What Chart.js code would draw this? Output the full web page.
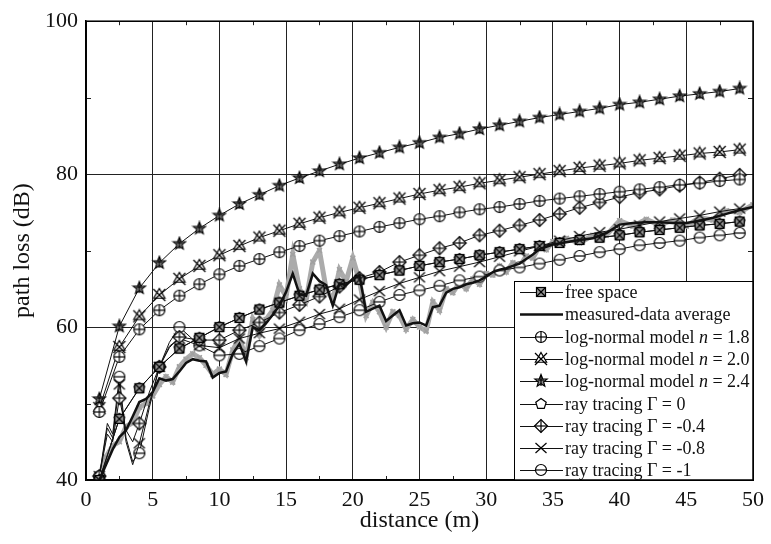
<!DOCTYPE html>
<html>
<head>
<meta charset="utf-8">
<script src="https://cdn.jsdelivr.net/npm/chart.js@4.4.1/dist/chart.umd.min.js"></script>
<style>
  html, body { margin: 0; padding: 0; background: #fff; }
</style>
</head>
<body>
<canvas id="pathLoss" width="771" height="544"></canvas>
<script>
// distances (m) where the model curves carry markers
const modelDist = [1, 2.5, 4, 5.5, 7, 8.5, 10, 11.5, 13, 14.5, 16, 17.5, 19, 20.5, 22, 23.5, 25,
    26.5, 28, 29.5, 31, 32.5, 34, 35.5, 37, 38.5, 40, 41.5, 43, 44.5, 46, 47.5, 49];

const freeSpace = [40.0, 48.0, 52.0, 54.8, 57.2, 58.6, 60.0, 61.2, 62.3, 63.2, 64.1, 64.9, 65.6,
    66.2, 66.8, 67.4, 68.0, 68.5, 68.9, 69.4, 69.8, 70.2, 70.6, 71.0, 71.4, 71.7, 72.0, 72.4,
    72.7, 73.0, 73.3, 73.5, 73.8];
const logNormal18 = [48.9, 56.1, 59.7, 62.2, 64.1, 65.6, 66.9, 68.0, 68.9, 69.8, 70.6, 71.3, 71.9,
    72.5, 73.1, 73.6, 74.1, 74.5, 75.0, 75.4, 75.7, 76.1, 76.5, 76.8, 77.1, 77.4, 77.7, 78.0,
    78.3, 78.6, 78.8, 79.1, 79.3];
const logNormal20 = [49.4, 57.4, 61.4, 64.2, 66.3, 68.0, 69.4, 70.6, 71.7, 72.6, 73.5, 74.3, 75.0,
    75.6, 76.2, 76.8, 77.4, 77.9, 78.3, 78.8, 79.2, 79.6, 80.0, 80.4, 80.8, 81.1, 81.4, 81.8,
    82.1, 82.4, 82.7, 82.9, 83.2];
const logNormal24 = [50.6, 60.1, 65.1, 68.4, 70.9, 72.9, 74.6, 76.1, 77.3, 78.5, 79.5, 80.4, 81.3,
    82.1, 82.8, 83.5, 84.1, 84.8, 85.3, 85.9, 86.4, 86.9, 87.4, 87.8, 88.2, 88.6, 89.1, 89.4,
    89.8, 90.2, 90.5, 90.8, 91.2];
const rayGamma0 = [40.0, 48.0, 52.0, 54.8, 57.2, 58.6, 60.0, 61.2, 62.3, 63.2, 64.1, 64.9, 65.6,
    66.2, 66.8, 67.4, 68.0, 68.5, 68.9, 69.4, 69.8, 70.2, 70.6, 71.0, 71.4, 71.7, 72.0, 72.4,
    72.7, 73.0, 73.3, 73.5, 73.8];

// ray tracing curves are sampled finer near the transmitter
const rayDist = [1, 1.6, 2, 2.5, 3, 3.5, 4, 4.75, 5.5, 6.25, 7, 8.5, 10, 11.5, 13, 14.5, 16, 17.5,
    19, 20.5, 22, 23.5, 25, 26.5, 28, 29.5, 31, 32.5, 34, 35.5, 37, 38.5, 40, 41.5, 43, 44.5, 46,
    47.5, 49];
const rayGammaM04 = [40.5, 46.0, 45.0, 50.7, 46.5, 45.0, 47.4, 51.5, 54.8, 57.3, 58.7,
    58.3, 58.3, 59.6, 60.6, 61.9, 62.9, 64.0, 65.3, 66.4, 67.2, 68.5, 69.4, 70.3, 71.0, 72.0,
    72.6, 73.3, 74.0, 74.8, 75.6, 76.3, 77.0, 77.6, 78.0, 78.5, 78.9, 79.4, 79.9];
const rayGammaM08 = [40.5, 46.8, 45.5, 52.5, 45.0, 42.0, 44.8, 50.0, 54.8, 57.5, 58.5,
    57.6, 57.3, 58.5, 59.2, 59.8, 60.7, 61.7, 62.4, 63.6, 64.7, 65.7, 66.5, 67.3, 67.9, 68.5,
    69.2, 69.9, 70.6, 71.3, 71.9, 72.4, 72.8, 73.3, 73.8, 74.2, 74.6, 75.1, 75.5];
const rayGammaM1 = [40.5, 47.4, 46.0, 53.5, 45.5, 42.4, 43.5, 49.5, 54.8, 58.0, 60.0,
    57.6, 56.3, 56.5, 57.5, 58.5, 59.6, 60.4, 61.3, 62.2, 63.3, 64.2, 64.8, 65.4, 66.1, 66.6,
    67.4, 67.8, 68.3, 68.8, 69.3, 69.8, 70.2, 70.7, 71.0, 71.3, 71.7, 72.0, 72.3];

// measurements
const measDist = [1, 1.5, 2, 2.5, 3, 3.5, 4, 4.5, 5, 5.5, 6, 6.5, 7, 7.5, 8, 8.5, 9, 9.5, 10, 10.5,
    11, 11.5, 12, 12.5, 13, 13.5, 14, 14.5, 15, 15.5, 16, 16.5, 17, 17.5, 18, 18.5, 19, 19.5, 20,
    20.5, 21, 21.5, 22, 22.5, 23, 23.5, 24, 24.5, 25, 25.5, 26, 26.5, 27, 27.5, 28, 28.5, 29,
    29.5, 30, 30.5, 31, 31.5, 32, 32.5, 33, 33.5, 34, 34.5, 35, 36, 37, 38, 39, 40, 41, 42, 43,
    44, 45, 46, 47, 48, 49, 50];
const measAverage = [40.0, 42.0, 44.0, 45.6, 46.5, 48.3, 50.2, 50.6, 51.5, 53.3,
    53.0, 53.2, 54.2, 55.3, 55.8, 55.6, 55.5, 53.4, 54.0, 54.2,
    56.5, 57.8, 55.5, 60.0, 59.6, 60.5, 61.6, 62.8, 64.6, 67.0,
    64.3, 64.1, 67.0, 66.0, 65.5, 62.8, 65.7, 65.5, 66.3, 66.7,
    62.0, 62.4, 62.8, 60.8, 61.5, 62.2, 60.2, 60.5, 60.6, 60.2,
    62.6, 62.8, 64.5, 65.0, 65.2, 65.6, 65.8, 66.1, 66.6, 67.2,
    67.5, 67.7, 68.0, 68.3, 68.9, 69.5, 70.2, 70.5, 70.8,
    71.1, 71.4, 71.6, 72.3, 73.4, 73.6, 73.7, 73.7, 73.6, 73.6, 73.9, 74.3, 74.8, 75.3, 75.7];
const measRaw = [40.5, 43.0, 44.5, 45.0, 47.0, 47.5, 49.5, 50.0, 51.0, 52.5,
    53.5, 52.8, 54.8, 55.8, 56.5, 56.0, 55.0, 53.8, 54.5, 53.8,
    57.0, 58.5, 56.0, 61.0, 59.0, 61.0, 62.2, 65.5, 64.0, 69.5,
    65.0, 63.5, 68.5, 70.0, 65.0, 63.5, 67.5, 66.0, 69.0, 66.0,
    61.5, 63.2, 62.0, 60.0, 62.0, 61.5, 59.7, 61.0, 60.0, 59.5,
    63.3, 62.2, 65.0, 64.5, 65.8, 65.0, 66.3, 65.6, 67.0, 66.8,
    68.0, 67.2, 68.4, 67.9, 69.3, 69.0, 70.6, 70.1, 71.2,
    71.6, 71.0, 72.0, 72.0, 73.9, 73.2, 74.1, 73.3, 74.0, 73.2, 74.3, 74.0, 75.2, 75.0, 76.0];

const xTicks = [0, 5, 10, 15, 20, 25, 30, 35, 40, 45, 50];
const yTicks = [40, 60, 80, 100];

const serif = '"Liberation Serif", "Times New Roman", serif';

function pts(xs, ys) {
    return xs.map((x, i) => ({ x: x, y: ys[i] }));
}

// marker images
function marker(draw) {
    const c = document.createElement('canvas');
    c.width = 16;
    c.height = 16;
    const g = c.getContext('2d');
    g.translate(8, 8);
    g.strokeStyle = '#000';
    g.fillStyle = '#fff';
    g.lineWidth = 1.2;
    draw(g);
    return c;
}
function line(g, x1, y1, x2, y2) {
    g.beginPath(); g.moveTo(x1, y1); g.lineTo(x2, y2); g.stroke();
}
function poly(g, n, r, rot) {
    g.beginPath();
    for (let k = 0; k < n; k++) {
        const a = rot + k * 2 * Math.PI / n;
        g.lineTo(r * Math.cos(a), r * Math.sin(a));
    }
    g.closePath();
}

const mSquare = marker(g => {
    g.fillStyle = '#999';
    g.fillRect(-4.5, -4.5, 9, 9);
    g.strokeRect(-4.5, -4.5, 9, 9);
    line(g, -4.5, -4.5, 4.5, 4.5);
    line(g, 4.5, -4.5, -4.5, 4.5);
});
const mCirclePlus = marker(g => {
    g.beginPath(); g.arc(0, 0, 5.5, 0, 2 * Math.PI); g.fill(); g.stroke();
    line(g, -5.5, 0, 5.5, 0);
    line(g, 0, -5.5, 0, 5.5);
});
const mTriX = marker(g => {
    poly(g, 3, 6.5, -Math.PI / 2); g.fill(); g.stroke();
    line(g, -6, -6, 6, 6);
    line(g, 6, -6, -6, 6);
});
const mStar = marker(g => {
    g.beginPath();
    for (let k = 0; k < 10; k++) {
        const r = k % 2 ? 2.8 : 6.5;
        const a = -Math.PI / 2 + k * Math.PI / 5;
        g.lineTo(r * Math.cos(a), r * Math.sin(a));
    }
    g.closePath();
    g.fillStyle = '#888';
    g.fill(); g.stroke();
    line(g, 0, -6, 0, 5);
    line(g, -3, -1, 3, -1);
});
const mPentagon = marker(g => {
    poly(g, 5, 5.5, -Math.PI / 2); g.fill(); g.stroke();
});
const mDiamondPlus = marker(g => {
    poly(g, 4, 6.5, 0); g.fill(); g.stroke();
    line(g, -6.5, 0, 6.5, 0);
    line(g, 0, -6.5, 0, 6.5);
});
const mCross = marker(g => {
    line(g, -5.5, -5, 5.5, 5);
    line(g, 5.5, -5, -5.5, 5);
});
const mTheta = marker(g => {
    g.beginPath(); g.arc(0, 0, 5.5, 0, 2 * Math.PI); g.fill(); g.stroke();
    line(g, -5.5, 0, 5.5, 0);
});

// markers only on the 1.5 m grid
const onGrid = (ctx) => (ctx.raw && modelDist.includes(ctx.raw.x)) ? 6 : 0;

function curve(xs, ys, style, order) {
    return {
        data: pts(xs, ys),
        borderColor: '#111',
        borderWidth: 1,
        pointStyle: style,
        pointRadius: onGrid,
        pointHoverRadius: 0,
        order: order
    };
}

const legendRows = [
    { text: ['free space'], marker: mSquare, width: 1 },
    { text: ['measured-data average'], marker: null, width: 2.5 },
    { text: ['log-normal model ', 'n', ' = 1.8'], marker: mCirclePlus, width: 1 },
    { text: ['log-normal model ', 'n', ' = 2.0'], marker: mTriX, width: 1 },
    { text: ['log-normal model ', 'n', ' = 2.4'], marker: mStar, width: 1 },
    { text: ['ray tracing \u0393 = 0'], marker: mPentagon, width: 1 },
    { text: ['ray tracing \u0393 = -0.4'], marker: mDiamondPlus, width: 1 },
    { text: ['ray tracing \u0393 = -0.8'], marker: mCross, width: 1 },
    { text: ['ray tracing \u0393 = -1'], marker: mTheta, width: 1 }
];

const minorTicks = {
    id: 'minorTicks',
    beforeDatasetsDraw(chart) {
        const ctx = chart.ctx;
        const a = chart.chartArea;
        const xs = chart.scales.x;
        const ys = chart.scales.y;
        ctx.save();
        ctx.strokeStyle = '#222';
        ctx.lineWidth = 1;
        for (let v = 2.5; v < 50; v += 5) {
            const px = Math.round(xs.getPixelForValue(v)) + 0.5;
            line(ctx, px, a.bottom, px, a.bottom - 4);
            line(ctx, px, a.top, px, a.top + 4);
        }
        for (let v = 50; v < 100; v += 20) {
            const py = Math.round(ys.getPixelForValue(v)) + 0.5;
            line(ctx, a.left, py, a.left + 5, py);
            line(ctx, a.right, py, a.right - 5, py);
        }
        ctx.restore();
    }
};

const boxLegend = {
    id: 'boxLegend',
    afterDraw(chart) {
        const ctx = chart.ctx;
        const a = chart.chartArea;
        const left = a.right - 239;
        const top = a.bottom - 199;
        ctx.save();
        ctx.fillStyle = '#fff';
        ctx.fillRect(left, top, a.right - left, a.bottom - top);
        ctx.strokeStyle = '#000';
        ctx.lineWidth = 1;
        ctx.strokeRect(left + 0.5, top + 0.5, a.right - left, a.bottom - top);
        legendRows.forEach((row, i) => {
            const y = Math.round(top + 11 + i * 22.3) + 0.5;
            ctx.strokeStyle = '#111';
            ctx.lineWidth = row.width;
            line(ctx, left + 6, y, left + 49, y);
            if (row.marker) {
                ctx.drawImage(row.marker, left + 27 - 8, y - 8.5);
            }
            ctx.fillStyle = '#111';
            ctx.textBaseline = 'middle';
            let x = left + 51;
            row.text.forEach((part, k) => {
                ctx.font = (k === 1 ? 'italic ' : '') + '18px ' + serif;
                ctx.fillText(part, x, y + 1);
                x += ctx.measureText(part).width;
            });
        });
        // plot frame
        ctx.strokeStyle = '#000';
        ctx.lineWidth = 1.5;
        ctx.strokeRect(a.left, a.top, a.right - a.left, a.bottom - a.top);
        ctx.restore();
    }
};

new Chart(document.getElementById('pathLoss'), {
    type: 'line',
    data: {
        datasets: [
            {
                data: pts(measDist, measAverage),
                borderColor: '#111',
                borderWidth: 2.5,
                pointRadius: 0,
                order: 1
            },
            curve(modelDist, freeSpace, mSquare, 2),
            curve(modelDist, logNormal18, mCirclePlus, 3),
            curve(modelDist, logNormal20, mTriX, 3),
            curve(modelDist, logNormal24, mStar, 3),
            curve(modelDist, rayGamma0, mPentagon, 4),
            curve(rayDist, rayGammaM04, mDiamondPlus, 4),
            curve(rayDist, rayGammaM08, mCross, 4),
            curve(rayDist, rayGammaM1, mTheta, 4),
            {
                data: pts(measDist, measRaw),
                borderColor: '#ababab',
                borderWidth: 5,
                pointStyle: 'crossRot',
                pointRadius: 3.5,
                pointBorderColor: '#a0a0a0',
                pointBorderWidth: 1.5,
                order: 9
            }
        ]
    },
    options: {
        responsive: false,
        animation: false,
        events: [],
        layout: { padding: { top: 20, right: 11, left: 0, bottom: 0 } },
        plugins: {
            legend: { display: false },
            tooltip: { enabled: false }
        },
        elements: { line: { tension: 0 } },
        scales: {
            x: {
                type: 'linear',
                min: 0,
                max: 50,
                afterFit: (s) => { s.height = 64; },
                afterBuildTicks: (s) => { s.ticks = xTicks.map(v => ({ value: v })); },
                ticks: { color: '#111', padding: 7, font: { family: serif, size: 22 } },
                grid: { color: '#222', lineWidth: 1, drawTicks: false },
                border: { color: '#000', width: 1.5 },
                title: {
                    display: true,
                    text: 'distance (m)',
                    color: '#111',
                    font: { family: serif, size: 24 },
                    padding: 9
                }
            },
            y: {
                min: 40,
                max: 100,
                afterFit: (s) => { s.width = 86; },
                afterBuildTicks: (s) => { s.ticks = yTicks.map(v => ({ value: v })); },
                ticks: { color: '#111', padding: 8, font: { family: serif, size: 22 } },
                grid: { color: '#222', lineWidth: 1, drawTicks: false },
                border: { color: '#000', width: 1.5 },
                title: {
                    display: true,
                    text: 'path loss (dB)',
                    color: '#111',
                    font: { family: serif, size: 24 },
                    padding: { top: 8, bottom: 0 }
                }
            }
        }
    },
    plugins: [minorTicks, boxLegend]
});
</script>
</body>
</html>
